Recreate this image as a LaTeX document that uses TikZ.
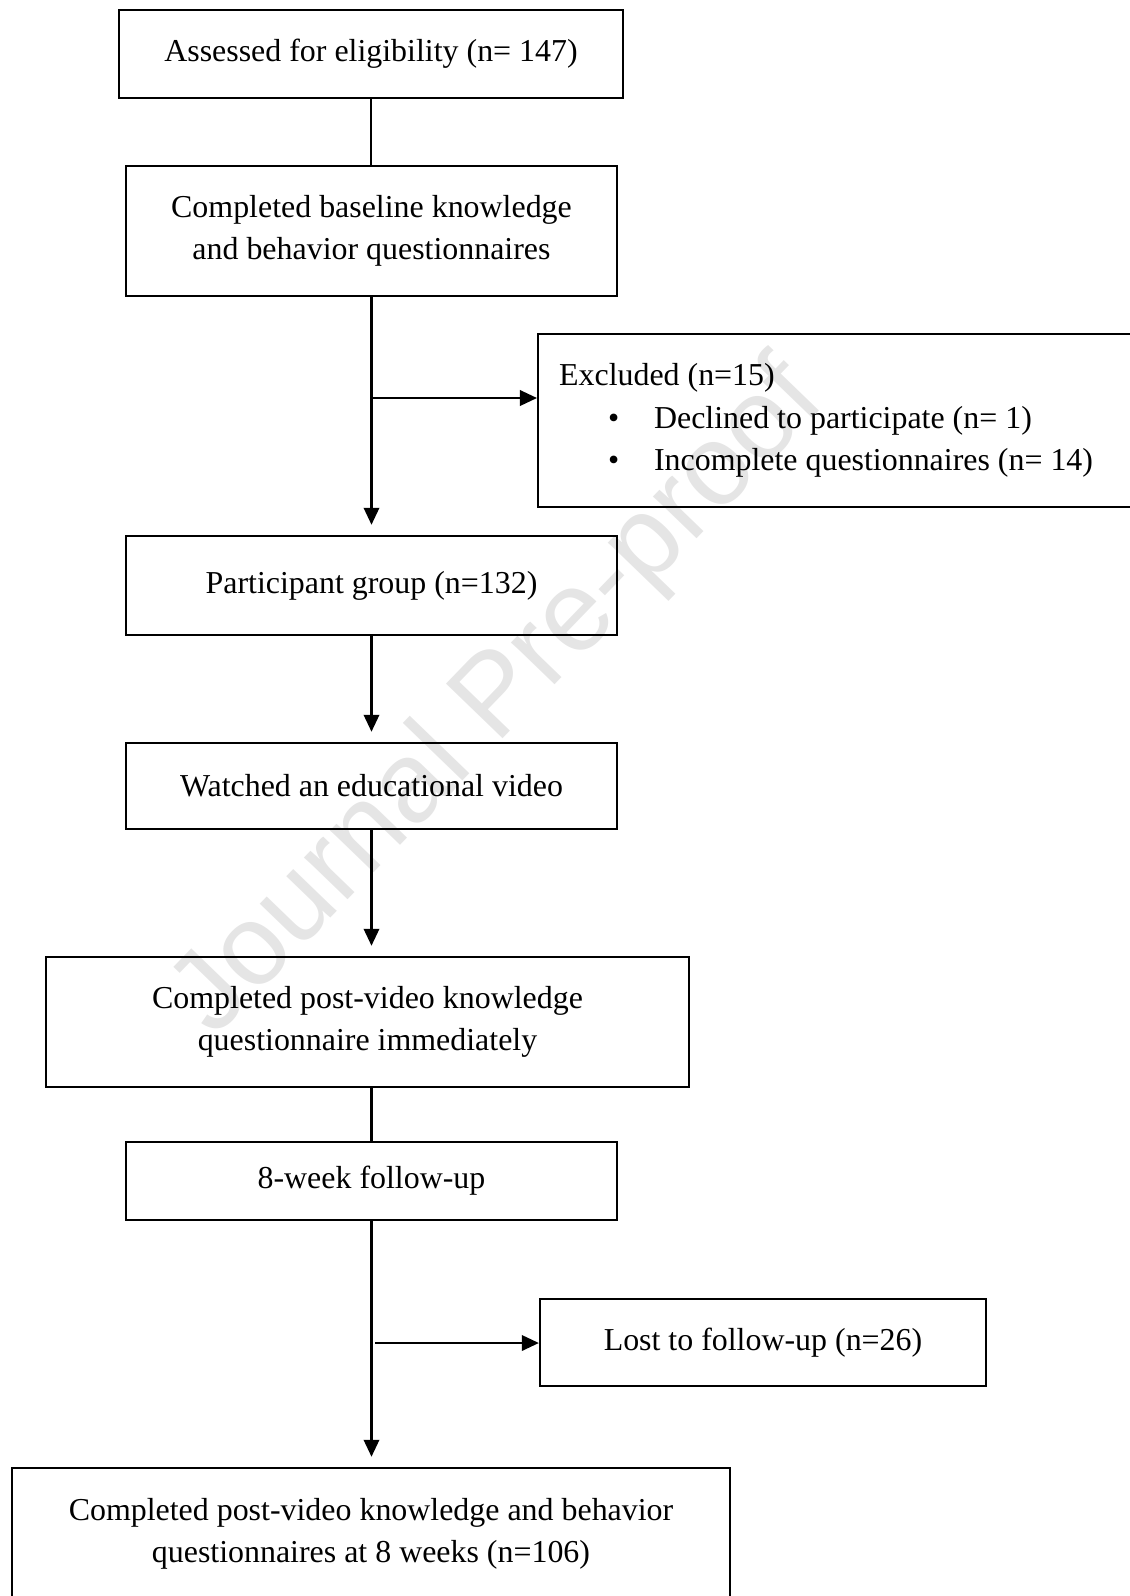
\documentclass[tikz,border=0pt]{standalone}
\usepackage{fontspec}
\setmainfont{Liberation Serif}
\newfontfamily\wmfont{Liberation Sans}
\usetikzlibrary{arrows.meta,positioning}
\newdimen\pxu \pxu=0.376pt

\begin{document}
\begin{tikzpicture}[
  x=0.376pt, y=-0.376pt,     % one unit = one pixel of the page
  >={Triangle[length=6.4pt,width=5.8pt]},
  stage/.style={draw, line width=0.85pt, align=center, inner sep=0pt,
                font=\fontsize{12pt}{16pt}\selectfont},
  note/.style={draw, line width=0.85pt, align=flush left, inner xsep=21\pxu, inner ysep=0pt,
               font=\fontsize{12pt}{16pt}\selectfont},
  flow/.style={->, line width=0.85pt, shorten >=3.8pt},   % arrow into next stage
  link/.style={line width=0.85pt},                        % plain joint
  side/.style={->, line width=0.85pt}                     % branch to the right
]
\useasboundingbox (0,0) rectangle (1130,1596);

% --- watermark (kept behind the chart)
\node[rotate=46, text=black!10, font=\wmfont\fontsize{43pt}{43pt}\selectfont] (wmark) at (500,700) {Journal Pre-proof};

% --- main column
\node[stage, minimum width=504\pxu, minimum height=88\pxu]  (elig)   at (371,54)     {Assessed for eligibility (n= 147)};
\node[stage, minimum width=491\pxu, minimum height=130\pxu] (base)   at (371.5,231)  {Completed baseline knowledge\\and behavior questionnaires};
\node[stage, minimum width=491\pxu, minimum height=99\pxu]  (group)  at (371.5,585.5) {Participant group (n=132)};
\node[stage, minimum width=491\pxu, minimum height=86\pxu]  (video)  at (371.5,786)  {Watched an educational video};
\node[stage, minimum width=643\pxu, minimum height=130\pxu] (post)   at (367.5,1022) {Completed post-video knowledge\\questionnaire immediately};
\node[stage, minimum width=491\pxu, minimum height=78\pxu]  (follow) at (371.5,1181) {8-week follow-up};
\node[stage, minimum width=718\pxu, minimum height=132\pxu] (final)  at (371,1534)   {Completed post-video knowledge and behavior\\questionnaires at 8 weeks (n=106)};

% --- side boxes
\node[note, text width=557\pxu, minimum height=173\pxu, anchor=west] (excl) at (537,420.5)
  {Excluded (n=15)\\
   \hspace*{18.4pt}\makebox[17.3pt][l]{\textbullet}Declined to participate (n= 1)\\
   \hspace*{18.4pt}\makebox[17.3pt][l]{\textbullet}Incomplete questionnaires (n= 14)};
\node[stage, minimum width=446\pxu, minimum height=87\pxu] (lost) at (763,1342.5) {Lost to follow-up (n=26)};

% --- connectors
\coordinate (j1) at (371.5,398);
\coordinate (j2) at (375,1343);

\draw[link] (elig.south) -- (elig.south |- base.north);
\draw[flow] (base.south) -- (group.north);
\draw[side] (j1) -- (j1 -| excl.west);
\draw[flow] (group.south) -- (video.north);
\draw[flow] (video.south) -- (video.south |- post.north);
\draw[link] (follow.north |- post.south) -- (follow.north);
\draw[flow] (follow.south) -- (follow.south |- final.north);
\draw[side] (j2) -- (j2 -| lost.west);

\end{tikzpicture}
\end{document}
